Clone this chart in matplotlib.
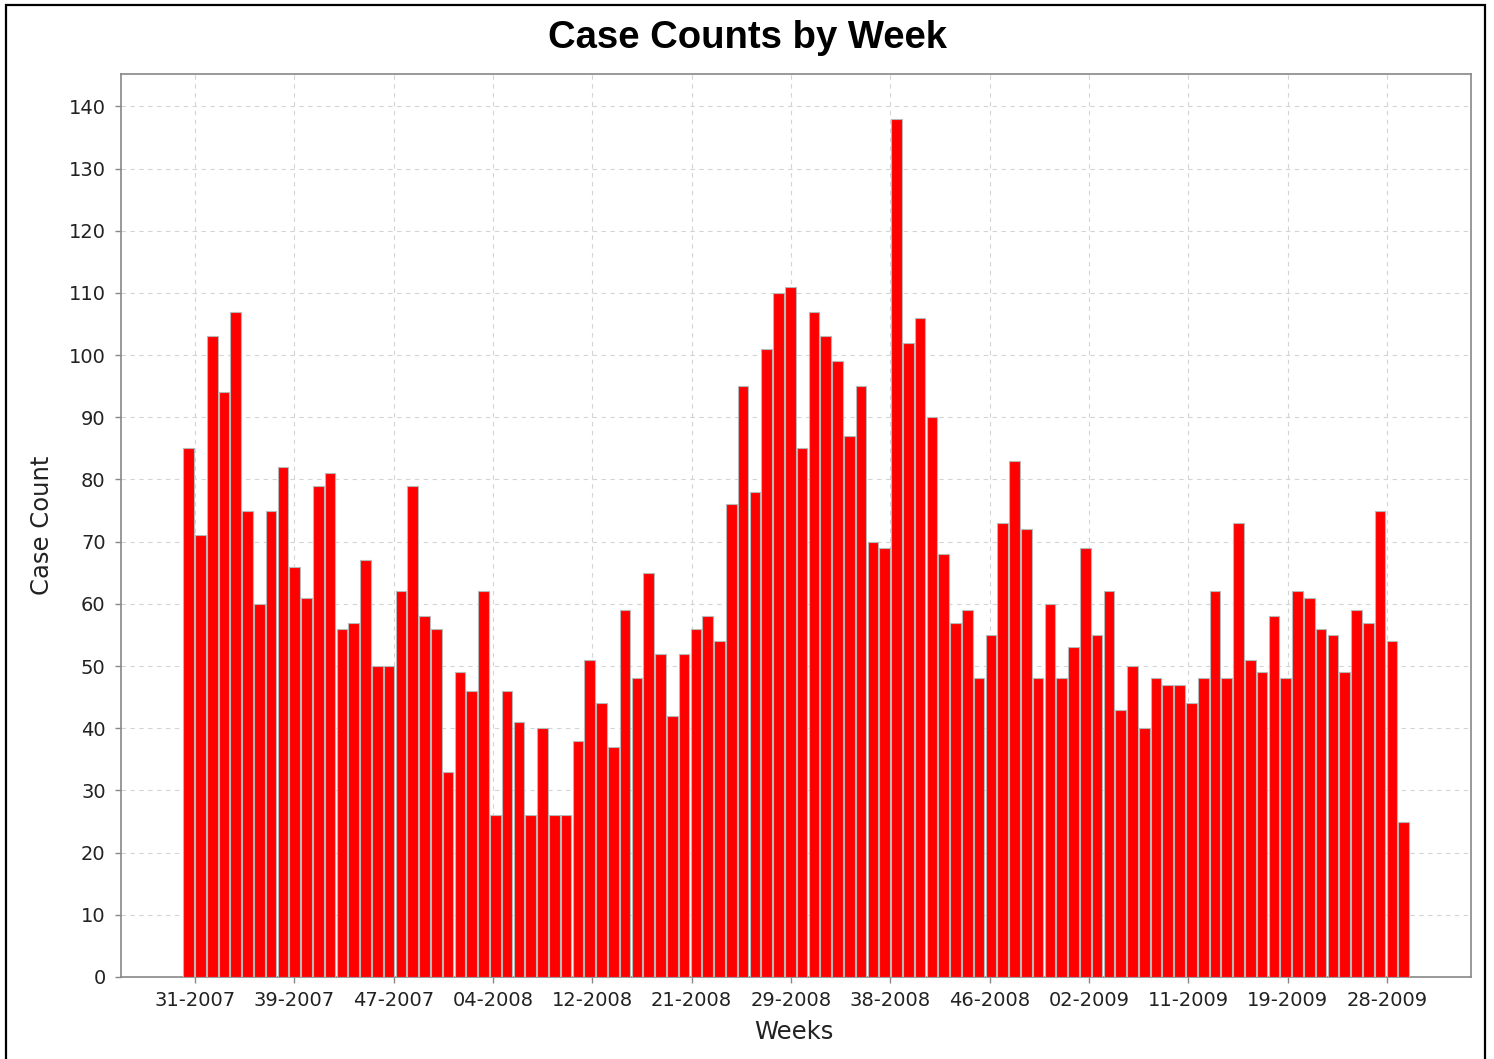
import numpy as np
import matplotlib
matplotlib.use("Agg")
import matplotlib.pyplot as plt
from matplotlib.patches import Rectangle

# weekly case counts, starting at week 31-2007
counts = [85, 71, 103, 94, 107, 75, 60, 75, 82, 66, 61, 79, 81, 56, 57, 67, 50, 50, 62, 79,
          58, 56, 33, 49, 46, 62, 26, 46, 41, 26, 40, 26, 26, 38, 51, 44, 37, 59, 48, 65,
          52, 42, 52, 56, 58, 54, 76, 95, 78, 101, 110, 111, 85, 107, 103, 99, 87, 95, 70, 69,
          138, 102, 106, 90, 68, 57, 59, 48, 55, 73, 83, 72, 48, 60, 48, 53, 69, 55, 62, 43,
          50, 40, 48, 47, 47, 44, 48, 62, 48, 73, 51, 49, 58, 48, 62, 61, 56, 55, 49, 59,
          57, 75, 54, 25]

week_labels = ['31-2007', '39-2007', '47-2007', '04-2008', '12-2008', '21-2008', '29-2008',
               '38-2008', '46-2008', '02-2009', '11-2009', '19-2009', '28-2009']
y_ticks = np.arange(0, 150, 10)

# tick spacing on the time axis, in bar units
tick_start = 0.54
tick_step = 8.42

W, H = 1494, 1059
fig = plt.figure(figsize=(W / 100, H / 100), dpi=100)
ax = fig.add_axes([121 / W, 1 - 977 / H, 1350 / W, 903 / H])

x = np.arange(len(counts))
ax.bar(x, counts, width=0.9, color='#ff0000', edgecolor='#b8b8b8', linewidth=0.8, zorder=3)

ax.set_xlim(-5.73, 108.7)
ax.set_ylim(0, 145.2)
ax.set_xticks(tick_start + tick_step * np.arange(len(week_labels)), week_labels)
ax.set_yticks(y_ticks)

ax.tick_params(axis='both', labelsize=14, colors='#888888', labelcolor='#222222', length=4, width=1)
ax.tick_params(axis='y', pad=7)
ax.tick_params(axis='x', pad=6)

ax.grid(True, color='#d4d4d4', linestyle=(0, (4, 4)), linewidth=0.8)
ax.set_axisbelow(True)
for s in ax.spines.values():
    s.set_color('#888888')
    s.set_linewidth(1.2)

fig.text(747 / W, 1 - 38 / H, 'Case Counts by Week', ha='center', va='center',
         fontsize=27.5, fontweight='bold', family='Liberation Sans')
fig.text(794 / W, 1 - 1032 / H, 'Weeks', ha='center', va='center', fontsize=17.5, color='#222222')
fig.text(42 / W, 1 - 525 / H, 'Case Count', ha='center', va='center', fontsize=17.5,
         rotation=90, color='#222222')

fig.patches.append(Rectangle((6 / W, -0.02), (1485 - 6) / W, 1.02 - 5 / H,
                             transform=fig.transFigure, fill=False,
                             edgecolor='black', linewidth=1.6))

fig.savefig('out.png', dpi=100)
